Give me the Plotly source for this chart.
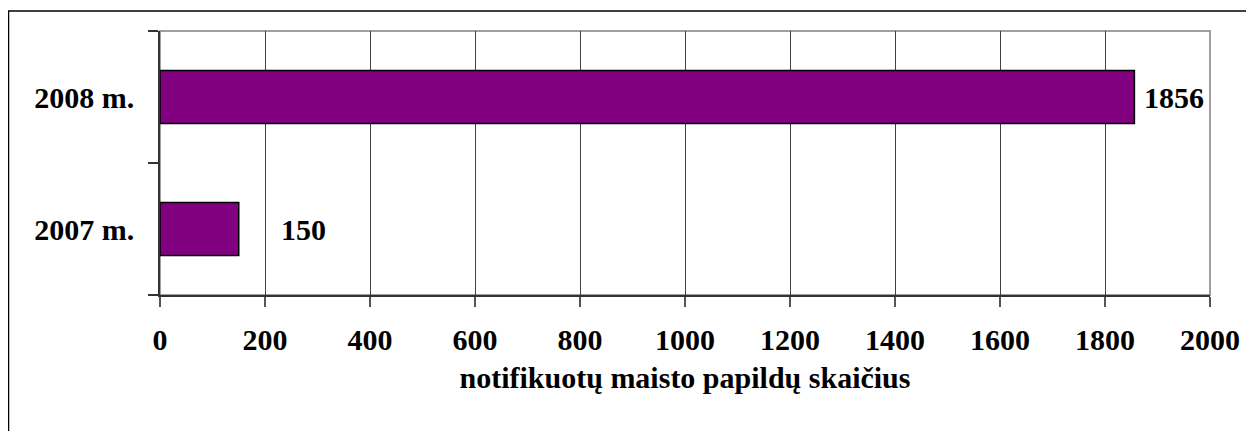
import plotly.graph_objects as go

categories = ["2007 m.", "2008 m."]
values = [150, 1856]
label_texts = ["150", "1856"]
x_ticks = [0, 200, 400, 600, 800, 1000, 1200, 1400, 1600, 1800, 2000]
x_title = "notifikuotų maisto papildų skaičius"

# page has an 8px body offset, so the figure is drawn 8px smaller
W, H = 1246, 423
L, R, T, B = 152, 44, 23, 136
pw, ph = W - L - R, H - T - B

FONT = "Liberation Serif"
FS = 30

fig = go.Figure()
fig.add_trace(go.Bar(
    y=categories, x=values, orientation="h",
    marker=dict(color="#800080", line=dict(color="#000000", width=1.5)),
    width=0.4, showlegend=False, hoverinfo="x+y",
))

label_shift = [40, 8]
for cat, v, t, s in zip(categories, values, label_texts, label_shift):
    fig.add_annotation(x=v, y=cat, text="<b>%s</b>" % t, showarrow=False,
                       xanchor="left", yanchor="middle", xshift=s,
                       font=dict(family=FONT, size=FS, color="#000000"))

def px_x(p):
    return (p - L) / pw
def px_y(p):
    return 1 - (p - T) / ph

# outer chart frame
fig.add_shape(type="rect", xref="paper", yref="paper",
              x0=px_x(0.5), x1=px_x(1245), y0=px_y(440), y1=px_y(3),
              line=dict(color="#000000", width=1.5), fillcolor="rgba(0,0,0,0)", layer="below")
# plot-area border
fig.add_shape(type="rect", xref="paper", yref="paper", x0=0, x1=1, y0=0, y1=1,
              line=dict(color="#808080", width=1.5), fillcolor="rgba(0,0,0,0)", layer="below")

fig.update_layout(
    width=W, height=H,
    margin=dict(l=L, r=R, t=T, b=B, pad=0),
    paper_bgcolor="#ffffff", plot_bgcolor="#ffffff",
    bargap=0.6,
    font=dict(family=FONT, size=FS, color="#000000"),
    xaxis=dict(
        range=[0, 2000], tickvals=x_ticks, ticktext=["<b>%d</b>" % v for v in x_ticks],
        showgrid=True, gridcolor="#404040", gridwidth=1,
        showline=True, linecolor="#333333", linewidth=1.5,
        ticks="outside", ticklen=10, tickcolor="#555555", tickwidth=1.5,
        ticklabelstandoff=7, zeroline=False,
        tickfont=dict(family=FONT, size=FS, color="#000000"),
        title=dict(text="<b>%s</b>" % x_title, standoff=12,
                   font=dict(family=FONT, size=30, color="#000000")),
    ),
    yaxis=dict(
        type="category", categoryorder="array", categoryarray=categories,
        showgrid=False, showline=True, linecolor="#333333", linewidth=1.5,
        ticks="outside", ticklen=10, tickcolor="#333333", tickwidth=1.5,
        tickson="boundaries", ticklabelstandoff=18,
        tickvals=categories, ticktext=["<b>%s</b>" % c for c in categories],
        tickfont=dict(family=FONT, size=FS, color="#000000"),
    ),
)

fig.write_html("out.html")
